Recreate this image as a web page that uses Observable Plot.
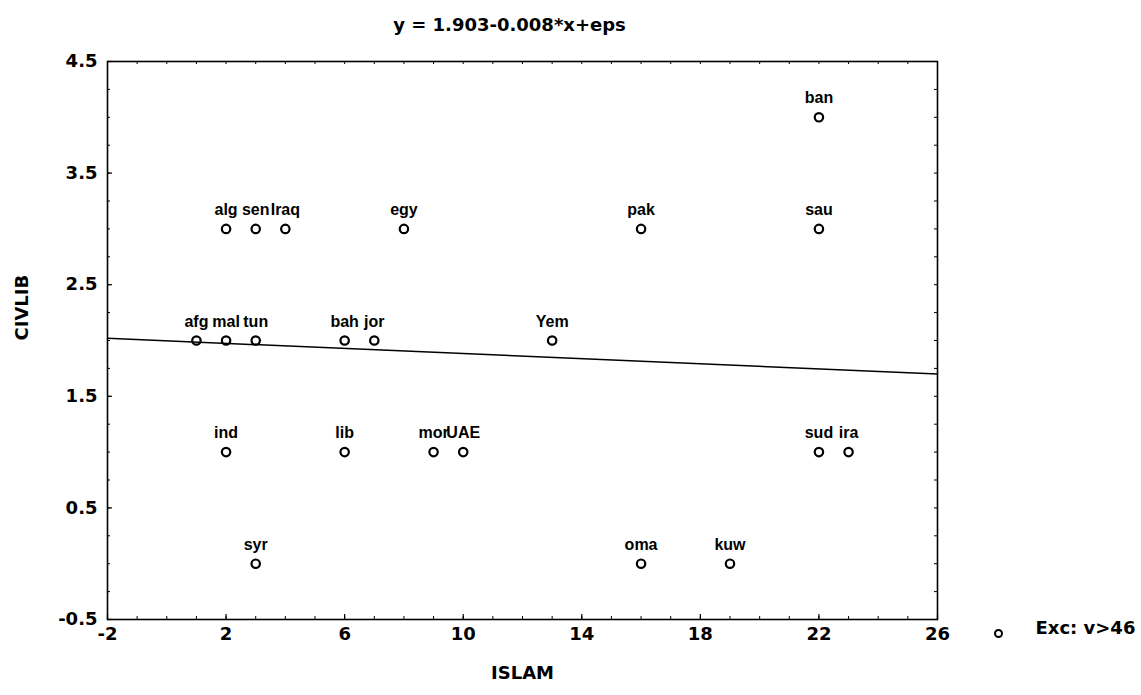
<!DOCTYPE html>
<html><head><meta charset="utf-8">
<script src="https://cdn.jsdelivr.net/npm/d3@7"></script>
<script src="https://cdn.jsdelivr.net/npm/@observablehq/plot@0.6"></script>
<style>body{margin:0;background:#fff}</style>
</head><body><div id="chart"></div>
<script>
const labels = ["afg","mal","tun","bah","jor","Yem","alg","sen","Iraq","egy","pak","sau","ban","ind","lib","mor","UAE","sud","ira","syr","oma","kuw"];
const islam  = [1,2,3,6,7,13,2,3,4,8,16,22,22,2,6,9,10,22,23,3,16,19];
const civlib = [2,2,2,2,2,2,3,3,3,3,3,3,4,1,1,1,1,1,1,0,0,0];
const xTicks = [-2,2,6,10,14,18,22,26];
const yTicks = [-0.5,0.5,1.5,2.5,3.5,4.5];
const xMinor = d3.range(-2, 26.01, 1);
const yMinor = d3.range(-0.5, 4.51, 0.25);
const fitX = [-2, 26];
const fitY = [2.02, 1.70];
const titleText = "y = 1.903-0.008*x+eps";
const xLabel = "ISLAM";
const yLabel = "CIVLIB";
const legendText = "Exc: v>46";

const data = labels.map((l, i) => ({label: l, x: islam[i], y: civlib[i]}));
const fit = fitX.map((x, i) => ({x, y: fitY[i]}));

const W = 1141, H = 695;
const mL = 107, mR = 204, mT = 61, mB = 76;
const innerW = W - mL - mR, innerH = H - mT - mB;
const fontA = "Liberation Sans, Arial, Helvetica, sans-serif";
const fontB = "DejaVu Sans, Verdana, sans-serif";

const chart = Plot.plot({
  width: W, height: H,
  marginLeft: mL, marginRight: mR, marginTop: mT, marginBottom: mB,
  style: {fontFamily: fontA, background: "#fff", color: "#000"},
  x: {domain: [-2, 26], axis: null},
  y: {domain: [-0.5, 4.5], axis: null},
  marks: [
    Plot.frame({stroke: "#000", strokeWidth: 1.6}),
    // inward ticks
    Plot.ruleX(xMinor, {x: d => d, insetTop: innerH - 3, stroke: "#000", strokeWidth: 1}),
    Plot.ruleX(xMinor, {x: d => d, insetBottom: innerH - 3, stroke: "#000", strokeWidth: 1}),
    Plot.ruleY(yMinor, {y: d => d, insetRight: innerW - 3, stroke: "#000", strokeWidth: 1}),
    Plot.ruleY(yMinor, {y: d => d, insetLeft: innerW - 3, stroke: "#000", strokeWidth: 1}),
    Plot.ruleX(xTicks, {x: d => d, insetTop: innerH - 5, stroke: "#000", strokeWidth: 1.2}),
    Plot.ruleY(yTicks, {y: d => d, insetRight: innerW - 5, stroke: "#000", strokeWidth: 1.2}),
    // tick labels
    Plot.text(xTicks, {x: d => d, text: d => String(d), frameAnchor: "bottom", dy: 20,
      fontFamily: fontB, fontSize: 18, fontWeight: "bold", fill: "#000"}),
    Plot.text(yTicks, {y: d => d, text: d => String(d), frameAnchor: "left", dx: -10, textAnchor: "end",
      fontFamily: fontB, fontSize: 18, fontWeight: "bold", fill: "#000"}),
    // axis titles
    Plot.text([xLabel], {frameAnchor: "bottom", dy: 59, fontFamily: fontB, fontSize: 18, fontWeight: "bold", fill: "#000"}),
    Plot.text([yLabel], {frameAnchor: "left", dx: -85, rotate: -90, fontFamily: fontB, fontSize: 18, fontWeight: "bold", fill: "#000"}),
    Plot.text([titleText], {frameAnchor: "top", dy: -43, dx: -13, fontFamily: fontB, fontSize: 18, fontWeight: "bold", fill: "#000"}),
    // regression line
    Plot.line(fit, {x: "x", y: "y", stroke: "#000", strokeWidth: 1.5}),
    // points and labels
    Plot.dot(data, {x: "x", y: "y", r: 4.2, stroke: "#000", strokeWidth: 2.2, fill: "none"}),
    Plot.text(data, {x: "x", y: "y", text: "label", dy: -19, fontSize: 16, fontWeight: "bold", fill: "#000"}),
    // legend
    Plot.dot([legendText], {frameAnchor: "bottom-right", dx: 61, dy: 14, r: 3.5, stroke: "#000", strokeWidth: 2, fill: "none"}),
    Plot.text([legendText], {frameAnchor: "bottom-right", dx: 98, dy: 14, textAnchor: "start", fontFamily: fontB, fontSize: 18, fontWeight: "bold", fill: "#000"})
  ]
});
document.getElementById("chart").appendChild(chart);
</script>
</body></html>
